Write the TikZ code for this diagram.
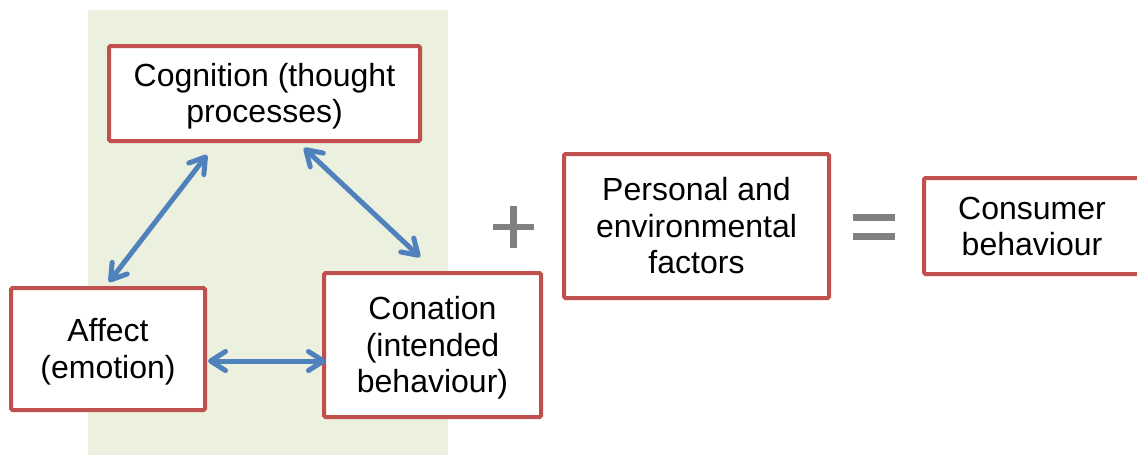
\documentclass[tikz,border=0pt]{standalone}
\usepackage{fontspec}
\setmainfont{Liberation Sans}
\usetikzlibrary{arrows.meta,shadows}
\definecolor{boxred}{HTML}{C0504D}
\definecolor{linkblue}{HTML}{4F81BD}
\definecolor{panelgreen}{HTML}{EBF1DE}
\definecolor{symgray}{HTML}{7F7F7F}
% invisible strut that fixes the first-line height and last-line depth
\newcommand\ls{\rule[-6.4pt]{0pt}{35.4pt}}
\begin{document}
\begin{tikzpicture}[x=1pt,y=-1pt,
  box/.style={draw=boxred, line width=4pt, fill=white, rounded corners=1.5pt,
    inner sep=0pt, align=center, font=\fontsize{32}{36.6}\selectfont,
    drop shadow={shadow xshift=1pt, shadow yshift=-1.5pt, opacity=0.18}},
  link/.style={draw=linkblue, line width=5pt, line cap=round,
    {Straight Barb[length=15pt,width=19pt,round]}-{Straight Barb[length=15pt,width=19pt,round]}},
  sym/.style={draw=symgray, line width=6.5pt}]
\useasboundingbox (0,0) rectangle (1137,455);

% shaded panel behind the triangle of components
\fill[panelgreen] (88,10) rectangle (448,455);

% attitude components
\node[box, minimum width=311pt, minimum height=95pt] (cog) at (264.5,93.5)
  {\ls Cognition (thought\\processes)\ls};
\node[box, minimum width=194pt, minimum height=122pt] (aff) at (108,349)
  {\ls Affect\\(emotion)\ls};
\node[box, minimum width=217pt, minimum height=144pt] (con) at (432.5,345)
  {\ls Conation\\(intended\\behaviour)\ls};

% other terms of the equation
\node[box, minimum width=265pt, minimum height=144pt] (per) at (696.5,226)
  {\ls Personal and\\environmental\\factors\ls};
\node[box, minimum width=216pt, minimum height=96pt] (beh) at (1032,226)
  {\ls Consumer\\behaviour\ls};

% arrow end points next to the boxes
\coordinate (cogL) at (207,155);
\coordinate (affT) at (109,282);
\coordinate (cogR) at (304,148);
\coordinate (conT) at (420,257);
\coordinate (affR) at (208,361);
\coordinate (conL) at (326,361);

\draw[link] (cogL) -- (affT);
\draw[link] (cogR) -- (conT);
\draw[link] (affR) -- (conL);

% plus sign
\coordinate (plusC) at (513.5,227);
\draw[sym] ([xshift=-20.5pt]plusC) -- ([xshift=20.5pt]plusC);
\draw[sym] ([yshift=21pt]plusC) -- ([yshift=-21pt]plusC);

% equals sign
\coordinate (eqC) at (874,227);
\draw[sym] (853,217.5) -- (895,217.5);
\draw[sym] (853,236.5) -- (895,236.5);
\end{tikzpicture}
\end{document}
